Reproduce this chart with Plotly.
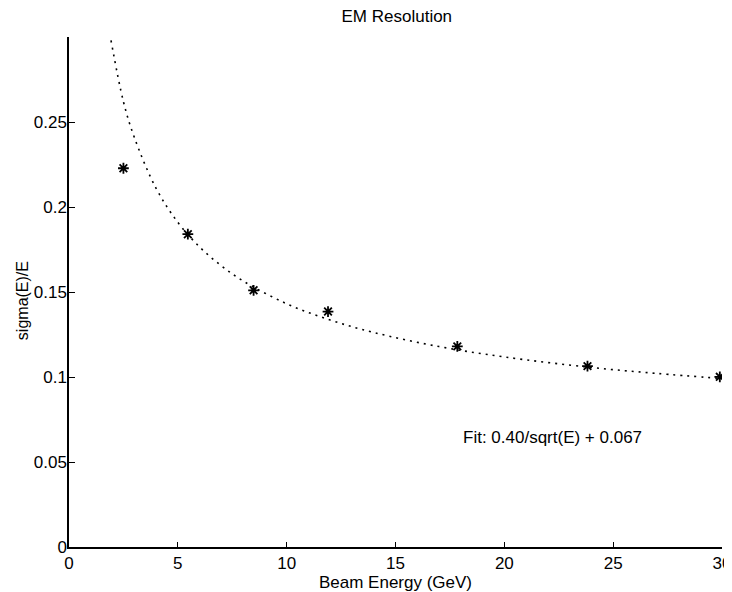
import plotly.graph_objects as go

energy = [2.5, 5.46, 8.48, 11.9, 17.84, 23.82, 29.9]
resolution = [0.2228, 0.184, 0.151, 0.1385, 0.118, 0.1064, 0.1001]

# Fit curve, values
fit_energy = [1.93, 2.5, 3, 4, 5, 6, 7, 8, 10, 12, 14, 17, 20, 24, 27, 30]
fit_resolution = [0.298, 0.262, 0.241, 0.211, 0.191, 0.1765, 0.1654, 0.1565,
                  0.1431, 0.1335, 0.1262, 0.1179, 0.1118, 0.1056, 0.1021, 0.0991]

x_ticks = [0, 5, 10, 15, 20, 25, 30]
y_ticks = [0, 0.05, 0.1, 0.15, 0.2, 0.25]
y_tick_text = ["0", "0.05", "0.1", "0.15", "0.2", "0.25"]

FONT = "Liberation Sans, Arial, Helvetica, sans-serif"

fig = go.Figure()
fig.add_trace(go.Scatter(
    x=fit_energy, y=fit_resolution, mode="lines", line_shape="spline",
    line=dict(color="black", width=1.6, dash="2px,5px"), showlegend=False,
    hoverinfo="skip"))
fig.add_trace(go.Scatter(
    x=energy, y=resolution, mode="markers",
    marker=dict(symbol="asterisk-open", size=9, color="black",
                line=dict(color="black", width=1.8)),
    showlegend=False))

fig.add_annotation(x=22.2, y=0.0647, text="Fit: 0.40/sqrt(E) + 0.067",
                   showarrow=False, font=dict(family=FONT, size=17, color="black"))
fig.add_annotation(xref="paper", yref="paper", x=-0.072, y=0.484,
                   text="sigma(E)/E", textangle=-90, showarrow=False,
                   xanchor="center", yanchor="middle",
                   font=dict(family=FONT, size=16, color="black"))

fig.update_layout(
    width=724, height=584,
    margin=dict(l=61, r=10, t=29, b=45),
    paper_bgcolor="white", plot_bgcolor="white",
    title=dict(text="EM Resolution", x=0.502, xanchor="center", xref="paper",
               y=1 - 8 / 584, yref="container", yanchor="middle",
               font=dict(family=FONT, size=17, color="black")),
    font=dict(family=FONT, size=17, color="black"),
    xaxis=dict(range=[0, 30], tickvals=x_ticks, showgrid=False, zeroline=False,
               showline=True, linecolor="black", linewidth=1.5, automargin=False,
               ticks="inside", ticklen=5, tickwidth=1, tickcolor="black",
               title=dict(text="Beam Energy (GeV)", standoff=0,
                          font=dict(family=FONT, size=17, color="black")),
               tickfont=dict(family=FONT, size=17, color="black")),
    yaxis=dict(range=[0, 0.3], tickvals=y_ticks, ticktext=y_tick_text,
               showgrid=False, zeroline=False, automargin=False,
               showline=True, linecolor="black", linewidth=1.5,
               ticks="inside", ticklen=6, tickwidth=1, tickcolor="black",
               ticklabelstandoff=-3,
               tickfont=dict(family=FONT, size=17, color="black")),
)

fig.write_html("out.html")
